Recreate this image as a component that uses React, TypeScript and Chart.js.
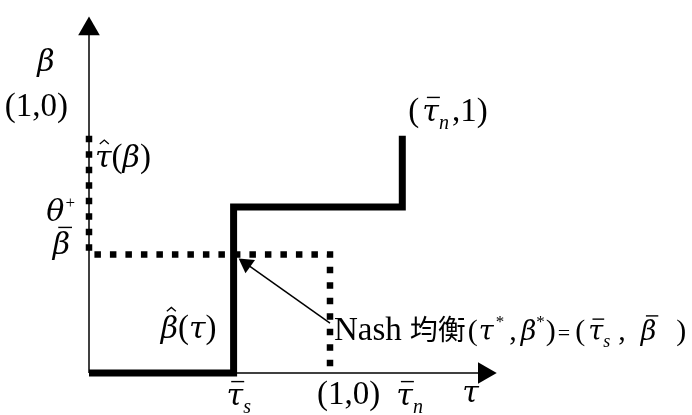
import { useEffect, useRef } from "react";
import { Chart, registerables } from "chart.js";

Chart.register(...registerables);

// Key levels on the τ (horizontal) and β (vertical) axes
const TAU_S = 0.6;
const TAU_ONE = 1.0;
const TAU_N = 1.3;
const BETA_BAR = 0.5;
const THETA_PLUS = 0.7;
const BETA_ONE = 1.0;

const X_MAX = 1.7;
const Y_MAX = 1.52;
const X_AXIS_END = 1.64;
const Y_AXIS_END = 1.45;

// β̂(τ): best response of β to τ (thick staircase)
const BETA_HAT_TAU = [0, TAU_S, TAU_S, TAU_N, TAU_N];
const BETA_HAT_BETA = [0, 0, THETA_PLUS, THETA_PLUS, BETA_ONE];

// τ̂(β): best response of τ to β (dotted)
const TAU_HAT_TAU = [0, 0, TAU_ONE, TAU_ONE];
const TAU_HAT_BETA = [BETA_ONE, BETA_BAR, BETA_BAR, 0];

// Pointer from the equilibrium caption to the equilibrium
const ARROW_TAU = [TAU_ONE, 0.653];
const ARROW_BETA = [0.21, 0.46];

const pts = (xs: number[], ys: number[]) => xs.map((x, i) => ({ x, y: ys[i] }));

const SERIF = '"Liberation Serif", "Times New Roman", serif';
const GREEK = '"DejaVu Serif", "Liberation Serif", serif';
const CJK = '"Noto Sans CJK TC", "Noto Sans CJK SC", sans-serif';
const BASE = 33;
const G = 30; // Greek letters
const MID = 30;
const GM = 27; // Greek letters in the caption
const SUB = 20;
const SUP = 17;

type Run = {
  t: string;
  gk?: boolean;
  it?: boolean;
  s?: number;
  dy?: number;
  bar?: number;
  hat?: number;
  cjk?: boolean;
  gap?: number;
  shift?: number;
};
type Label = {
  x: number;
  y: number;
  dx: number;
  dy: number;
  align: "left" | "right" | "center";
  runs: Run[];
};

const g = (t: string, extra: Partial<Run> = {}): Run => ({ t, gk: true, s: G, ...extra });

const LABELS: Label[] = [
  { x: 0, y: Y_AXIS_END, dx: -43, dy: 42, align: "center", runs: [g("β")] },
  { x: 0, y: BETA_ONE, dx: -21, dy: -20, align: "right", runs: [{ t: "(1,0)" }] },
  {
    x: 0, y: BETA_ONE, dx: 6, dy: 31, align: "left",
    runs: [g("τ", { hat: 0.85, shift: 1 }), { t: "(" }, g("β"), { t: ")" }],
  },
  {
    x: 0, y: THETA_PLUS, dx: -14, dy: 14, align: "right",
    runs: [g("θ"), { t: "+", s: SUP, dy: -13, gap: 1 }],
  },
  { x: 0, y: BETA_BAR, dx: -19, dy: 0, align: "right", runs: [g("β", { bar: 0.9, shift: 2 })] },
  {
    x: TAU_S, y: 0, dx: -17, dy: -35, align: "right",
    runs: [g("β", { hat: 0.98, shift: 2 }), { t: "(" }, g("τ"), { t: ")" }],
  },
  {
    x: TAU_S, y: 0, dx: -7, dy: 32, align: "left",
    runs: [g("τ", { bar: 0.78, shift: 1 }), { t: "s", it: true, s: SUB, dy: 8 }],
  },
  { x: TAU_ONE, y: 0, dx: -13, dy: 31, align: "left", runs: [{ t: "(1,0)" }] },
  {
    x: TAU_N, y: 0, dx: -6, dy: 32, align: "left",
    runs: [g("τ", { bar: 0.78, shift: 1 }), { t: "n", it: true, s: SUB, dy: 8 }],
  },
  { x: X_AXIS_END, y: 0, dx: -22, dy: 29, align: "left", runs: [g("τ")] },
  {
    x: TAU_N, y: BETA_ONE, dx: 6, dy: -15, align: "left",
    runs: [
      { t: "(" },
      g("τ", { bar: 0.78, shift: 1, gap: 3 }),
      { t: "n", it: true, s: SUB, dy: 8 },
      { t: ",1)", gap: 3 },
    ],
  },
  {
    x: ARROW_TAU[0], y: ARROW_BETA[0], dx: 4, dy: 17, align: "left",
    runs: [
      { t: "Nash" },
      { t: "均衡", cjk: true, s: 28, gap: 8 },
      { t: "(", s: MID, gap: 2 },
      g("τ", { s: GM, gap: 1 }),
      { t: "*", s: SUP, dy: -13, gap: 2 },
      { t: ",", s: MID, gap: 5 },
      g("β", { s: GM, gap: 4 }),
      { t: "*", s: SUP, dy: -13, gap: 0 },
      { t: ")", s: MID, gap: 1 },
      { t: "=", s: 22, gap: 2 },
      { t: "(", s: MID, gap: 5 },
      g("τ", { s: GM, bar: 0.78, shift: 1, gap: 3 }),
      { t: "s", it: true, s: 18, dy: 7 },
      { t: ",", s: MID, gap: 8 },
      g("β", { s: GM, bar: 0.9, shift: 2, gap: 15 }),
      { t: ")", s: MID, gap: 20 },
    ],
  },
];

const fontOf = (r: Run) => {
  const size = r.s ?? BASE;
  if (r.gk) return `italic ${size}px ${GREEK}`;
  return `${r.it ? "italic " : ""}${size}px ${r.cjk ? CJK : SERIF}`;
};

function drawRuns(ctx: CanvasRenderingContext2D, x: number, y: number, runs: Run[], align: string) {
  let total = 0;
  for (const r of runs) {
    ctx.font = fontOf(r);
    total += (r.gap ?? 0) + ctx.measureText(r.t).width;
  }
  let cx = align === "left" ? x : align === "right" ? x - total : x - total / 2;
  for (const r of runs) {
    cx += r.gap ?? 0;
    const size = r.s ?? BASE;
    const by = y + (r.dy ?? 0);
    ctx.font = fontOf(r);
    const w = ctx.measureText(r.t).width;
    ctx.fillText(r.t, cx, by);
    const sh = r.shift ?? 0;
    if (r.bar) {
      const ly = by - r.bar * size;
      ctx.lineWidth = 1.4;
      ctx.beginPath();
      ctx.moveTo(cx + size * 0.12 + sh, ly);
      ctx.lineTo(cx + w + sh, ly);
      ctx.stroke();
    }
    if (r.hat) {
      const hx = cx + w / 2 + sh;
      const hy = by - r.hat * size;
      const hw = size * 0.15;
      ctx.lineWidth = 1.3;
      ctx.beginPath();
      ctx.moveTo(hx - hw, hy + size * 0.09);
      ctx.lineTo(hx, hy - size * 0.04);
      ctx.lineTo(hx + hw, hy + size * 0.09);
      ctx.stroke();
    }
    cx += w;
  }
}

const labelPlugin = {
  id: "diagramLabels",
  afterDatasetsDraw(chart: any) {
    const { ctx } = chart;
    const xs = chart.scales.x;
    const ys = chart.scales.y;
    ctx.save();
    ctx.fillStyle = "#000";
    ctx.strokeStyle = "#000";
    ctx.textBaseline = "alphabetic";
    for (const L of LABELS) {
      drawRuns(ctx, xs.getPixelForValue(L.x) + L.dx, ys.getPixelForValue(L.y) + L.dy, L.runs, L.align);
    }
    ctx.restore();
  },
};

export default function App() {
  const ref = useRef<HTMLCanvasElement | null>(null);

  useEffect(() => {
    if (!ref.current) return;
    const arrowRotation = (c: any) => {
      const ch = c.chart;
      const xs = ch.scales?.x;
      const ys = ch.scales?.y;
      if (!xs || !ys) return -55;
      const dx = xs.getPixelForValue(ARROW_TAU[1]) - xs.getPixelForValue(ARROW_TAU[0]);
      const dy = ys.getPixelForValue(ARROW_BETA[1]) - ys.getPixelForValue(ARROW_BETA[0]);
      const deg = (Math.atan2(dx, -dy) * 180) / Math.PI;
      return Number.isFinite(deg) ? deg : -55;
    };
    const common = {
      borderColor: "#000",
      pointBackgroundColor: "#000",
      pointBorderWidth: 0,
      pointStyle: "triangle" as const,
      tension: 0,
      fill: false,
      clip: false as const,
      borderCapStyle: "butt" as const,
      borderJoinStyle: "miter" as const,
    };
    const chart = new Chart(ref.current, {
      type: "line",
      data: {
        datasets: [
          {
            ...common,
            label: "β axis",
            data: pts([0, 0], [0, Y_AXIS_END]),
            borderWidth: 1.5,
            pointRadius: [0, 12.5],
          },
          {
            ...common,
            label: "τ axis",
            data: pts([0, X_AXIS_END], [0, 0]),
            borderWidth: 1.5,
            pointRadius: [0, 12.5],
            pointRotation: 90,
          },
          {
            ...common,
            label: "β̂(τ)",
            data: pts(BETA_HAT_TAU, BETA_HAT_BETA),
            borderWidth: 7,
            pointRadius: 0,
          },
          {
            ...common,
            label: "τ̂(β)",
            data: pts(TAU_HAT_TAU, TAU_HAT_BETA),
            borderWidth: 6.5,
            borderDash: [6.5, 9],
            pointRadius: 0,
          },
          {
            ...common,
            label: "Nash",
            data: pts(ARROW_TAU, ARROW_BETA),
            borderWidth: 1.5,
            pointRadius: [0, 9.5],
            pointRotation: arrowRotation,
          },
        ],
      },
      options: {
        responsive: false,
        animation: false,
        events: [],
        layout: { padding: { left: 89, right: 193.3, top: 10, bottom: 42 } },
        plugins: { legend: { display: false }, tooltip: { enabled: false } },
        scales: {
          x: { type: "linear", min: 0, max: X_MAX, display: false },
          y: { type: "linear", min: 0, max: Y_MAX, display: false },
        },
      },
      plugins: [labelPlugin],
    });
    return () => chart.destroy();
  }, []);

  return (
    <div style={{ position: "fixed", left: 0, top: 0, width: 692, height: 415, background: "#fff" }}>
      <canvas ref={ref} width={692} height={415} style={{ display: "block" }} />
    </div>
  );
}
